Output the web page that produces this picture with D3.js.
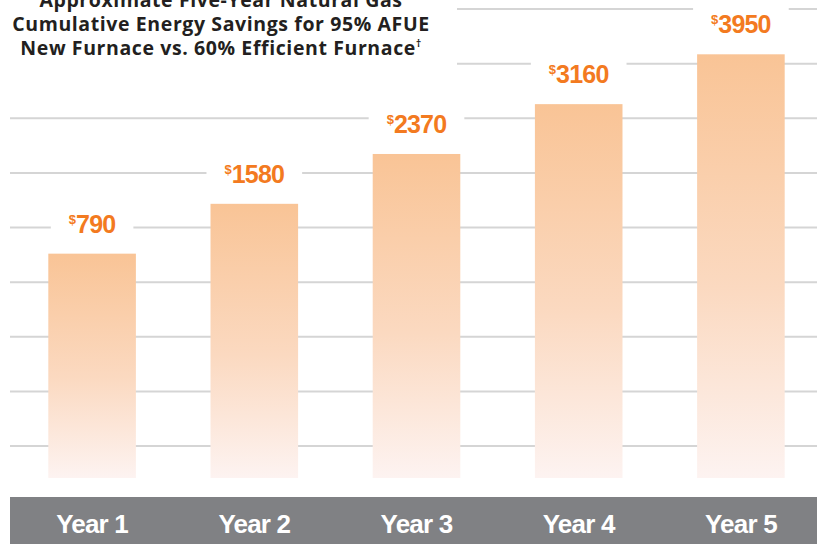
<!DOCTYPE html>
<html>
<head>
<meta charset="utf-8">
<script src="https://cdn.jsdelivr.net/npm/d3@7"></script>
<style>
  html, body { margin: 0; padding: 0; background: #ffffff; }
  svg { display: block; }
</style>
</head>
<body>
<svg id="chart" width="817" height="544"></svg>
<script>
// ---- data ----
const categories = ["Year 1", "Year 2", "Year 3", "Year 4", "Year 5"];
const savings = [790, 1580, 2370, 3160, 3950];
const valuePrefix = "$";
const titleLines = [
  "Approximate Five-Year Natural Gas",
  "Cumulative Energy Savings for 95% AFUE",
  "New Furnace vs. 60% Efficient Furnace"
];
const titleMark = "†";
const gridIndex = [0, 1, 2, 3, 4, 5, 6, 7, 8];

// ---- layout ----
const W = 817, H = 544;
const svg = d3.select("#chart");

const x = d3.scaleBand().domain(categories).range([11, 822]).paddingInner(0.46).paddingOuter(0.23);
const y = d3.scaleLinear().domain([-2766, 3950]).range([478, 54.3]);
const gy = d3.scaleLinear().domain([0, 8]).range([446, 9]);

// gradient
const defs = svg.append("defs");
const grad = defs.append("linearGradient").attr("id", "barGrad")
  .attr("x1", 0).attr("y1", 0).attr("x2", 0).attr("y2", 1);
grad.append("stop").attr("offset", "0%").attr("stop-color", "#f9c496");
grad.append("stop").attr("offset", "55%").attr("stop-color", "#fbd9c0");
grad.append("stop").attr("offset", "100%").attr("stop-color", "#fdf3f1");

// gridlines
svg.append("g").selectAll("line").data(gridIndex).join("line")
  .attr("x1", 10).attr("x2", W)
  .attr("y1", d => gy(d)).attr("y2", d => gy(d))
  .attr("stroke", "#d5d5d5").attr("stroke-width", 2);

// title background and title
svg.append("rect").attr("x", 0).attr("y", 0).attr("width", 457).attr("height", 70).attr("fill", "#fff");
const title = svg.append("text")
  .attr("text-anchor", "middle")
  .attr("font-family", "'Open Sans', 'Noto Sans', sans-serif")
  .attr("font-weight", 700)
  .attr("font-size", 19.5)
  .attr("letter-spacing", 0.6)
  .attr("fill", "#231f20");
titleLines.forEach((t, i) => {
  title.append("tspan").attr("x", 221).attr("y", 7 + i * 24.2).text(t);
  if (i === titleLines.length - 1) {
    title.append("tspan").attr("font-size", 10).attr("dy", -8).text(titleMark);
  }
});

// bars
svg.append("g").selectAll("rect").data(savings).join("rect")
  .attr("x", (d, i) => x(categories[i]))
  .attr("width", x.bandwidth())
  .attr("y", d => y(d))
  .attr("height", d => y.range()[0] - y(d))
  .attr("fill", "url(#barGrad)");

// value labels with white backgrounds
const lg = svg.append("g");
savings.forEach((d, i) => {
  const cx = x(categories[i]) + x.bandwidth() / 2;
  const base = y(d) - 21;
  const g = lg.append("g");
  const bg = g.append("rect").attr("fill", "#fff");
  const t = g.append("text")
    .attr("x", cx).attr("y", base)
    .attr("text-anchor", "middle")
    .attr("font-family", "'Liberation Sans', Arial, sans-serif")
    .attr("font-weight", 700)
    .attr("fill", "#f37a20");
  t.append("tspan").attr("font-size", 13).attr("dy", -9).text(valuePrefix);
  t.append("tspan").attr("font-size", 25).attr("letter-spacing", -0.8).attr("dy", 9).text(d);
  const bb = t.node().getBBox();
  bg.attr("x", bb.x - 18).attr("width", bb.width + 36)
    .attr("y", base - 30).attr("height", 38);
});

// bottom band
svg.append("rect").attr("x", 10).attr("y", 497).attr("width", W - 10).attr("height", H - 497).attr("fill", "#808184");
svg.append("g").selectAll("text").data(categories).join("text")
  .attr("x", d => x(d) + x.bandwidth() / 2)
  .attr("y", 533)
  .attr("text-anchor", "middle")
  .attr("font-family", "'Liberation Sans', Arial, sans-serif")
  .attr("font-weight", 700)
  .attr("font-size", 26)
  .attr("letter-spacing", -0.8)
  .attr("fill", "#ffffff")
  .text(d => d);
</script>
</body>
</html>
